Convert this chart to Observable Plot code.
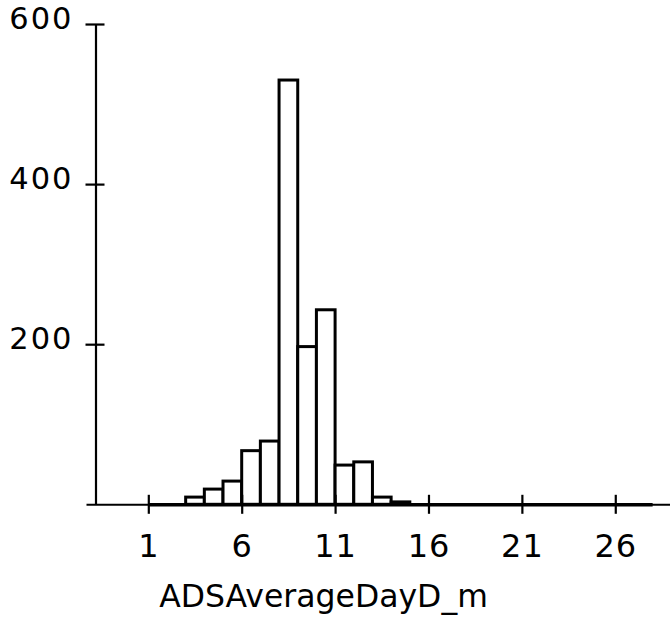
<!DOCTYPE html>
<html><head><meta charset="utf-8">
<script src="https://cdn.jsdelivr.net/npm/d3@7"></script>
<script src="https://cdn.jsdelivr.net/npm/@observablehq/plot@0.6"></script>
<style>
body{margin:0;background:#fff}
g[aria-label="y-axis tick label"]{letter-spacing:2px}
g[aria-label="x-axis tick label"]{letter-spacing:1px}
</style>
</head><body><div id="chart"></div>
<script>
const binLo  = [1,2,3,4,5,6,7,8,9,10,11,12,13,14,15,16,17,18,19,20,21,22,23,24,25,26,27];
const binHi  = [2,3,4,5,6,7,8,9,10,11,12,13,14,15,16,17,18,19,20,21,22,23,24,25,26,27,28];
const counts = [0,0,9,19,29,67,79,530,197,243,49,53,9,3,0,0,0,0,0,0,0,0,0,0,0,0,0];
const xTicks = [1,6,11,16,21,26];
const yTicks = [200,400,600];
const xLabel = "ADSAverageDayD_m";

const bins = binLo.map((lo, i) => ({lo, hi: binHi[i], count: counts[i]}));
const xDomain = [-1.827, 28.93];
const yMax = 600;
const font = "DejaVu Sans";

const chart = Plot.plot({
  width: 670, height: 623,
  marginLeft: 95.5, marginRight: 0, marginTop: 24, marginBottom: 118.7,
  style: {fontFamily: font, background: "#fff", color: "#000", overflow: "visible"},
  x: {domain: xDomain},
  y: {domain: [0, yMax]},
  marks: [
    Plot.ruleY([0], {insetLeft: -9, stroke: "#000", strokeWidth: 2}),
    Plot.ruleX([xDomain[0]], {y1: 0, y2: yMax, stroke: "#000", strokeWidth: 2.2}),
    Plot.rectY(bins.filter(d => d.count > 0), {x1: "lo", x2: "hi", y: "count", fill: "#fff", stroke: "#000", strokeWidth: 3}),
    Plot.ruleY([0], {x1: binLo[0], x2: binHi[binHi.length - 1], stroke: "#000", strokeWidth: 3.5}),
    Plot.axisX({ticks: xTicks, tickSize: 19, dy: -9.5, tickPadding: 20.2, fontSize: 32, strokeWidth: 2.2, label: null}),
    Plot.axisY({ticks: yTicks, tickSize: 19, dx: 9, strokeWidth: 2.2, tickFormat: () => "", label: null}),
    Plot.axisY({ticks: yTicks, tickSize: 0, dy: -5, tickPadding: 22.5, fontSize: 30.5, label: null}),
    Plot.text([xLabel], {frameAnchor: "bottom-left", dx: 227.5, dy: 101.7, textAnchor: "middle", lineAnchor: "bottom", fontSize: 31.5, fill: "#000"})
  ]
});
document.getElementById("chart").append(chart);
</script>
</body></html>
